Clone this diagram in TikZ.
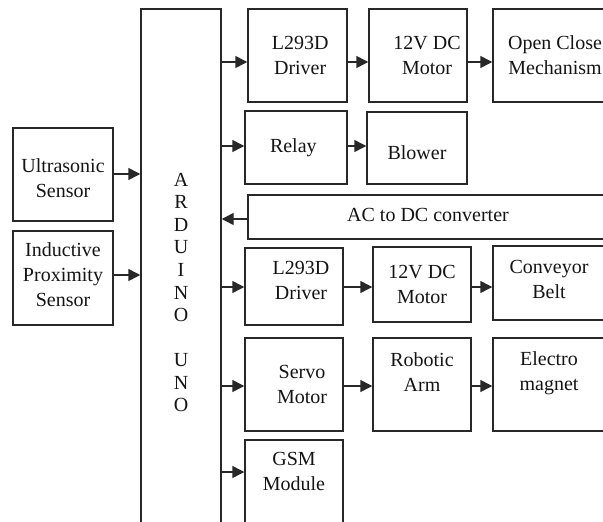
\documentclass[tikz,border=0pt]{standalone}
\usepackage{fontspec}
\setmainfont{Liberation Serif}
\usetikzlibrary{arrows.meta}
\definecolor{blockline}{RGB}{40,40,40}
\definecolor{blockink}{RGB}{20,20,20}
\tikzset{
  blockbox/.style={draw=blockline,line width=1.1pt,rectangle,inner sep=0pt},
  blocklabel/.style={align=center,text=blockink,inner sep=0pt,
    font=\fontsize{15}{18.75}\selectfont},
  feed/.style={draw=blockline,line width=1.1pt,-{Triangle[length=9pt,width=9pt]}},
}
% name, left, top, right, bottom (pixels), text; optional shift of the text
\newcommand{\unitbox}[7][]{%
  \node[blockbox,minimum width={(#5-#3)*0.75pt},minimum height={(#6-#4)*0.75pt}]
    (#2) at ({(#3+#5)/2},{(#4+#6)/2}) {};
  \node[blocklabel,#1] (#2-t) at (#2.center) {#7};
}

\begin{document}
\begin{tikzpicture}[x=0.75pt,y=-0.75pt]
  \useasboundingbox (0,0) rectangle (603,521);
  \clip (0,0) rectangle (603,521);
  % inputs and controller
  \unitbox[yshift=-3pt]{us}{13}{128}{113}{221}{Ultrasonic\\Sensor}
  \unitbox[yshift=2.25pt]{ind}{13}{231}{113}{325}{Inductive\\Proximity\\Sensor}
  \unitbox[font=\fontsize{15}{16.9}\selectfont]{ard}{141}{9}{221}{576}%
    {A\\R\\D\\U\\I\\N\\O\\[16.9pt]U\\N\\O}
  % lid row
  \unitbox[xshift=2pt]{drv1}{248}{9}{347}{102}{L293D\\Driver}
  \unitbox[xshift=6.75pt]{mot1}{369}{9}{467}{102}{12V DC\\Motor}
  \unitbox{mech}{493}{9}{617}{102}{Open Close\\Mechanism}
  % blower row
  \unitbox[xshift=-2pt]{relay}{245}{111}{347}{184}{Relay}
  \unitbox[yshift=-3.75pt]{blower}{367}{112}{467}{184}{Blower}
  % supply
  \unitbox[yshift=1.5pt]{conv}{248}{195}{608}{239}{AC to DC converter}
  % conveyor row
  \unitbox[xshift=5.25pt,yshift=4.5pt]{drv2}{245}{248}{343}{325}{L293D\\Driver}
  \unitbox{mot2}{373}{247}{471}{322}{12V DC\\Motor}
  \unitbox[yshift=3pt]{belt}{493}{246}{605}{320}{Conveyor\\Belt}
  % sorting row
  \unitbox[xshift=6pt]{servo}{245}{338}{343}{431}{Servo\\Motor}
  \unitbox[yshift=9pt]{arm}{373}{338}{471}{431}{Robotic\\Arm}
  \unitbox[yshift=8.25pt]{emag}{493}{338}{605}{431}{Electro\\magnet}
  \unitbox[yshift=21.4pt]{gsm}{245}{440}{343}{560}{GSM\\Module}

  \coordinate (rUS) at (0,174);
  \coordinate (rInd) at (0,275);
  \coordinate (r1) at (0,62);
  \coordinate (r2) at (0,146);
  \coordinate (r3) at (0,219);
  \coordinate (r4) at (0,287);
  \coordinate (r5) at (0,386);
  \coordinate (r6) at (0,472);

  \draw[feed] (us.east |- rUS) -- (ard.west |- rUS);
  \draw[feed] (ind.east |- rInd) -- (ard.west |- rInd);
  \draw[feed] (ard.east |- r1) -- (drv1.west |- r1);
  \draw[feed] (drv1.east |- r1) -- (mot1.west |- r1);
  \draw[feed] (mot1.east |- r1) -- (mech.west |- r1);
  \draw[feed] (ard.east |- r2) -- (relay.west |- r2);
  \draw[feed] (relay.east |- r2) -- (blower.west |- r2);
  \draw[feed] (conv.west |- r3) -- (ard.east |- r3);
  \draw[feed] (ard.east |- r4) -- (drv2.west |- r4);
  \draw[feed] (drv2.east |- r4) -- (mot2.west |- r4);
  \draw[feed] (mot2.east |- r4) -- (belt.west |- r4);
  \draw[feed] (ard.east |- r5) -- (servo.west |- r5);
  \draw[feed] (servo.east |- r5) -- (arm.west |- r5);
  \draw[feed] (arm.east |- r5) -- (emag.west |- r5);
  \draw[feed] (ard.east |- r6) -- (gsm.west |- r6);
\end{tikzpicture}
\end{document}
